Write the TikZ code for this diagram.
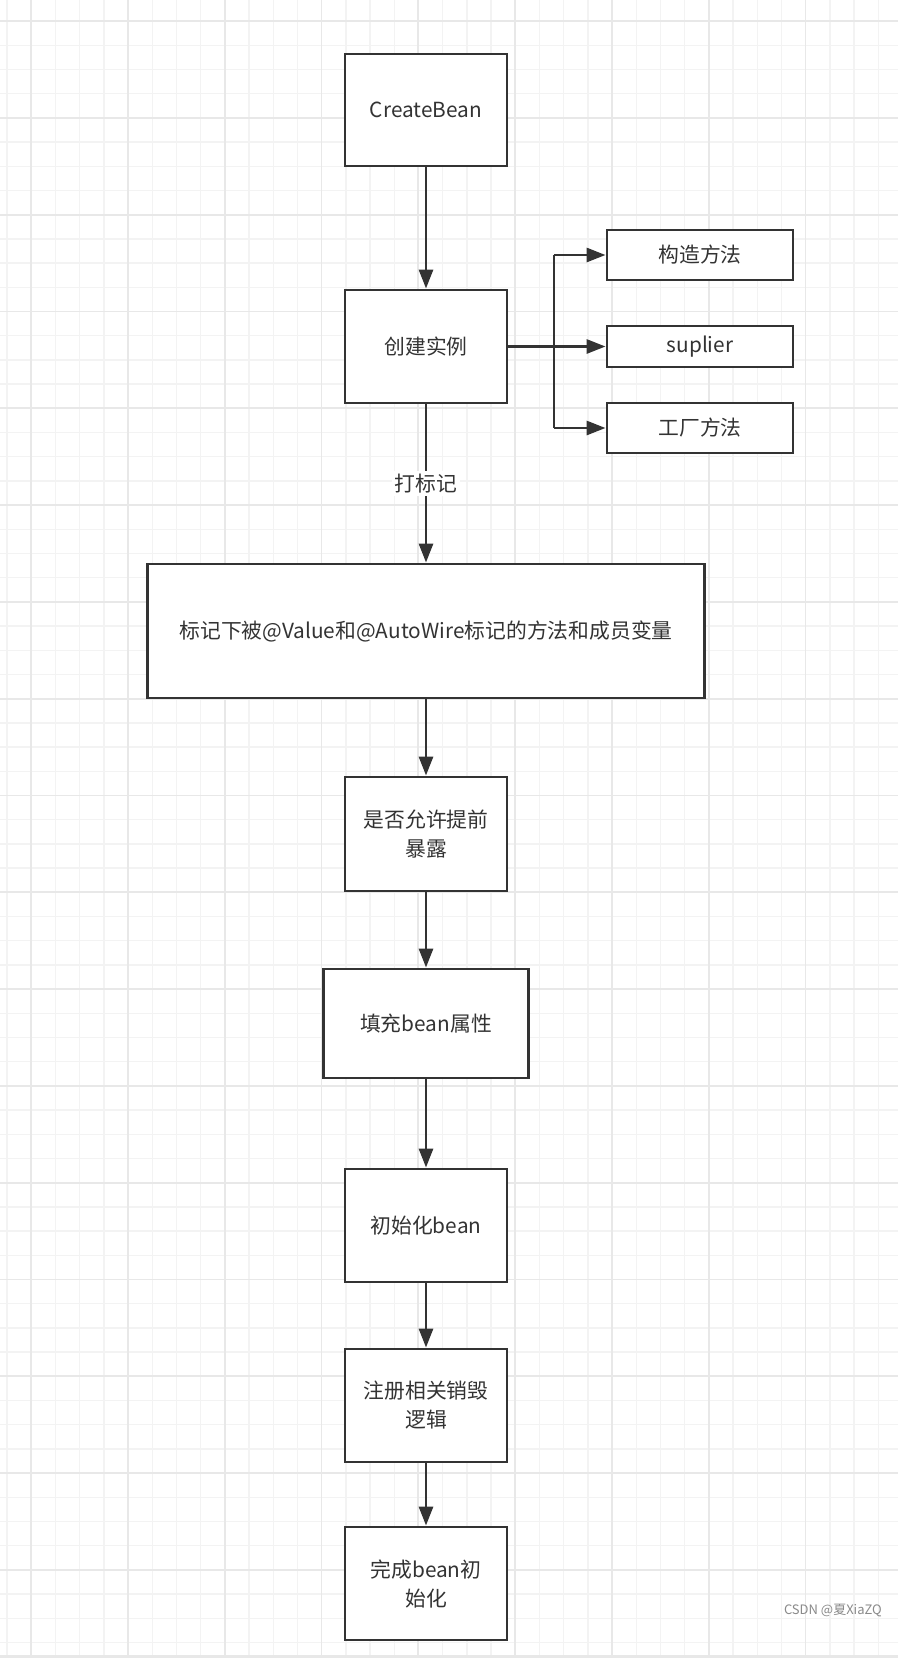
\documentclass[tikz,border=0pt]{standalone}
\usepackage{fontspec}
\setmainfont{Noto Sans CJK SC}
\usetikzlibrary{arrows.meta}
\definecolor{ink}{HTML}{333333}
\definecolor{gridminor}{HTML}{F3F3F3}
\definecolor{gridmajor}{HTML}{E8E8E8}
\definecolor{wm}{HTML}{8A8A8A}
\begin{document}
\begin{tikzpicture}[x=1pt,y=-1pt,
  box/.style={draw=ink,line width=2.9pt,fill=white,text=ink,font=\fontsize{20.8}{29}\selectfont,align=center,inner sep=0pt},
  conn/.style={draw=ink,line width=2.9pt,-{Triangle[length=19pt,width=14pt]}},
  plain/.style={draw=ink,line width=2.9pt}]
\useasboundingbox (0,0) rectangle (898,1658);
\fill[white] (0,0) rectangle (898,1658);
% grid
\foreach \k in {0,...,37}{
  \pgfmathsetmacro{\xx}{7+24.2*\k}
  \draw[gridminor,line width=1.4pt] (\xx,0) -- (\xx,1655);
}
\foreach \k in {0,...,69}{
  \pgfmathsetmacro{\yy}{-3.2+24.2*\k}
  \draw[gridminor,line width=1.4pt] (0,\yy) -- (898,\yy);
}
\foreach \k in {0,...,9}{
  \pgfmathsetmacro{\xx}{31+96.8*\k}
  \draw[gridmajor,line width=1.8pt] (\xx,0) -- (\xx,1655);
}
\foreach \k in {0,...,17}{
  \pgfmathsetmacro{\yy}{21+96.8*\k}
  \draw[gridmajor,line width=1.8pt] (0,\yy) -- (898,\yy);
}
\fill[gridmajor] (0,1655) rectangle (898,1658);
% nodes
\node[box,minimum width=162pt,minimum height=112pt] (cb) at (426,110) {CreateBean};
\node[box,minimum width=162pt,minimum height=113pt] (ci) at (426,346.5) {创建实例};
\node[box,minimum width=186pt,minimum height=50pt] (gz) at (700,255) {构造方法};
\node[box,minimum width=186pt,minimum height=41pt] (sp) at (700,346.5) {suplier};
\node[box,minimum width=186pt,minimum height=50pt] (gc) at (700,428) {工厂方法};
\node[box,minimum width=557pt,minimum height=134pt] (big) at (426,631) {标记下被@Value和@AutoWire标记的方法和成员变量};
\node[box,minimum width=162pt,minimum height=114pt] (sf) at (426,834) {是否允许提前\\暴露};
\node[box,minimum width=205pt,minimum height=109pt] (tc) at (426,1023.5) {填充bean属性};
\node[box,minimum width=162pt,minimum height=113pt] (cs) at (426,1225.5) {初始化bean};
\node[box,minimum width=162pt,minimum height=113pt] (zc) at (426,1405.5) {注册相关销毁\\逻辑};
\node[box,minimum width=162pt,minimum height=113pt] (wc) at (426,1583.5) {完成bean初\\始化};
\coordinate (br) at (554,346.5);
% connectors
\draw[conn] (cb) -- (ci);
\draw[conn] (ci.east) -- (sp.west);
\draw[plain] (br |- gz) -- (br |- gc);
\draw[conn] (br |- gz) -- (gz.west);
\draw[conn] (br |- gc) -- (gc.west);
\draw[conn] (ci) -- node[fill=white,text=ink,font=\fontsize{20.8}{24}\selectfont,inner sep=3pt] (lbl) {打标记} (big);
\draw[conn] (big) -- (sf);
\draw[conn] (sf) -- (tc);
\draw[conn] (tc) -- (cs);
\draw[conn] (cs) -- (zc);
\draw[conn] (zc) -- (wc);
% watermark
\node[text=wm,font=\fontsize{13}{15}\selectfont,anchor=east,inner sep=0pt] (wmk) at (882,1611) {CSDN @夏XiaZQ};
\end{tikzpicture}
\end{document}
